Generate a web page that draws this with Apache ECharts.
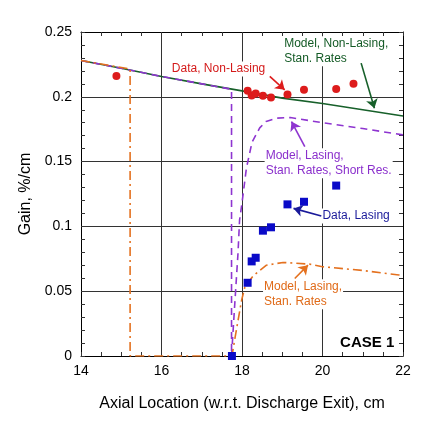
<!DOCTYPE html>
<html>
<head>
<meta charset="utf-8">
<script src="https://cdn.jsdelivr.net/npm/echarts@6/dist/echarts.min.js"></script>
<style>
html,body{margin:0;padding:0;background:#fff;}
#main{width:437px;height:421px;}
</style>
</head>
<body>
<div id="main"></div>
<script>
// ---- data (x: axial location cm, y: gain %/cm) ----
var dataNonLasing = [[14.88,0.216],[18.14,0.2046],[18.24,0.201],[18.34,0.2026],[18.52,0.2008],[18.72,0.1995],[19.13,0.2018],[19.54,0.2054],[20.34,0.206],[20.77,0.210]];
var dataLasing = [[17.75,0.0],[18.14,0.0565],[18.24,0.073],[18.34,0.0758],[18.52,0.0967],[18.72,0.0993],[19.13,0.117],[19.54,0.119],[20.34,0.1315]];
var modelNonLasing = [[14,0.228],[15,0.222],[16,0.2157],[17,0.210],[18,0.2046],[19,0.1990],[20,0.1948],[21,0.1900],[22,0.1852]];
var modelLasingShortRes = [[14,0.228],[15,0.222],[16,0.2157],[17,0.210],[17.74,0.2058],[17.74,0],[17.78,0],[17.82,0.040],[17.90,0.079],[17.94,0.105],[18.0,0.118],[18.11,0.145],[18.25,0.165],[18.44,0.176],[18.6,0.181],[18.85,0.1835],[19.2,0.184],[20,0.180],[21,0.1755],[22,0.1706]];
var modelLasingStan = [[14,0.228],[15.22,0.2215],[15.22,0],[17.75,0],[17.86,0.020],[17.99,0.043],[18.07,0.053],[18.28,0.062],[18.6,0.070],[19.02,0.0722],[19.68,0.0709],[20,0.0689],[21,0.066],[21.9,0.0625],[22,0.0622]];

var xTicks = {min:14, max:22, interval:2};
var yTicks = {min:0, max:0.25, interval:0.05};

// annotation texts, anchors (left edge / middle) and arrows in data units
var labelTexts = ['Data, Non-Lasing','Model, Non-Lasing,\nStan. Rates','Model, Lasing,\nStan. Rates, Short Res.','Data, Lasing','Model, Lasing,\nStan. Rates','CASE 1'];
var labelAnchors = [[16.22,0.2214],[19.01,0.2352],[18.55,0.1487],[19.96,0.108],[18.51,0.0477],[20.40,0.0100]];
var arrowTails = [[18.69,0.2157],[20.96,0.2260],[19.56,0.1616],[19.97,0.1080],[19.31,0.0598]];
var arrowTips  = [[19.06,0.2054],[21.29,0.1912],[19.23,0.1809],[19.28,0.1139],[19.64,0.0701]];

var cRed='#dd1c1c', cGreen='#17602a', cPurple='#8e35d0', cBlue='#0a0ac8', cOrange='#e4711f';
var labelColors=['#d41a1a','#135a25','#8a2fcc','#1a1a9a','#e06a18','#000'];
var arrowColors=[cRed,cGreen,cPurple,'#1a1a9a',cOrange];
var FONT='"Liberation Sans", Arial, sans-serif';

var chart = echarts.init(document.getElementById('main'));

var annotData = labelTexts.map(function(t,i){
  return {
    value: labelAnchors[i],
    label: {
      show:true, position:'right', distance:0, formatter:t,
      color: labelColors[i], fontFamily: FONT, opacity:1,
      fontSize: i===5 ? 15 : 12, fontWeight: i===5 ? 'bold' : 'normal',
      lineHeight: 15, align:'left', backgroundColor:'#fff', padding:[0,1]
    }
  };
});
var arrowData = arrowTails.map(function(t,i){
  return {coords:[t, arrowTips[i]], lineStyle:{color:arrowColors[i], width:1.6, opacity:1}};
});

function axisCommon(){
  return {
    type:'value',
    axisLine:{show:true,onZero:false,lineStyle:{color:'#000',width:1}},
    axisTick:{show:true,inside:true,length:4,lineStyle:{color:'#333'}},
    minorTick:{show:true,length:4,lineStyle:{color:'#333'}},
  };
}

var option = {
  animation:false,
  backgroundColor:'#fff',
  textStyle:{fontFamily:FONT},
  grid:{left:81, top:32, right:34, bottom:65, containLabel:false},
  xAxis:[
    Object.assign(axisCommon(),{
      min:xTicks.min,max:xTicks.max,interval:xTicks.interval,position:'bottom',
      minorTick:{show:true,splitNumber:4,length:4,lineStyle:{color:'#333'}},
      axisLabel:{fontSize:14,color:'#000',margin:8,fontFamily:FONT},
      splitLine:{show:true,lineStyle:{color:'#333',width:1}},
      name:'Axial Location (w.r.t. Discharge Exit), cm',nameLocation:'middle',nameGap:40,
      nameTextStyle:{fontSize:16,color:'#000',fontFamily:FONT}
    }),
    Object.assign(axisCommon(),{
      min:xTicks.min,max:xTicks.max,interval:xTicks.interval,position:'top',
      minorTick:{show:true,splitNumber:4,length:4,lineStyle:{color:'#333'}},
      axisLabel:{show:false},splitLine:{show:false}
    })
  ],
  yAxis:[
    Object.assign(axisCommon(),{
      min:yTicks.min,max:yTicks.max,interval:yTicks.interval,position:'left',
      minorTick:{show:true,splitNumber:5,length:4,lineStyle:{color:'#333'}},
      axisLabel:{fontSize:14,color:'#000',margin:9,fontFamily:FONT},
      splitLine:{show:true,lineStyle:{color:'#333',width:1}},
      name:'Gain, %/cm',nameLocation:'middle',nameGap:46,
      nameTextStyle:{fontSize:16,color:'#000',fontFamily:FONT}
    }),
    Object.assign(axisCommon(),{
      min:yTicks.min,max:yTicks.max,interval:yTicks.interval,position:'right',
      minorTick:{show:true,splitNumber:5,length:4,lineStyle:{color:'#333'}},
      axisLabel:{show:false},splitLine:{show:false}
    })
  ],
  series:[
    {name:'Model, Non-Lasing',type:'line',data:modelNonLasing,showSymbol:false,symbol:'none',smooth:false,
     lineStyle:{color:cGreen,width:1.6},z:2},
    {name:'Model, Lasing, Short Res.',type:'line',data:modelLasingShortRes,symbol:'none',smooth:false,
     lineStyle:{color:cPurple,width:1.6,type:[7,5]},z:3},
    {name:'Model, Lasing, Stan. Rates',type:'line',data:modelLasingStan,symbol:'none',smooth:false,
     lineStyle:{color:cOrange,width:1.6,type:[9,4,2,4]},z:3},
    {name:'Data, Non-Lasing',type:'scatter',data:dataNonLasing,symbol:'circle',symbolSize:8,
     itemStyle:{color:cRed,opacity:1},z:5},
    {name:'Data, Lasing',type:'scatter',data:dataLasing,symbol:'rect',symbolSize:8,
     itemStyle:{color:cBlue,opacity:1},z:5},
    {name:'annotations',type:'scatter',data:annotData,symbolSize:1,itemStyle:{color:'rgba(255,255,255,0)',opacity:1},z:4,silent:true},
    {name:'arrows',type:'lines',coordinateSystem:'cartesian2d',data:arrowData,
     symbol:['none','arrow'],symbolSize:[1,9],silent:true,z:6,
     lineStyle:{width:1.6,opacity:1,curveness:0}}
  ]
};
chart.setOption(option);
</script>
</body>
</html>
